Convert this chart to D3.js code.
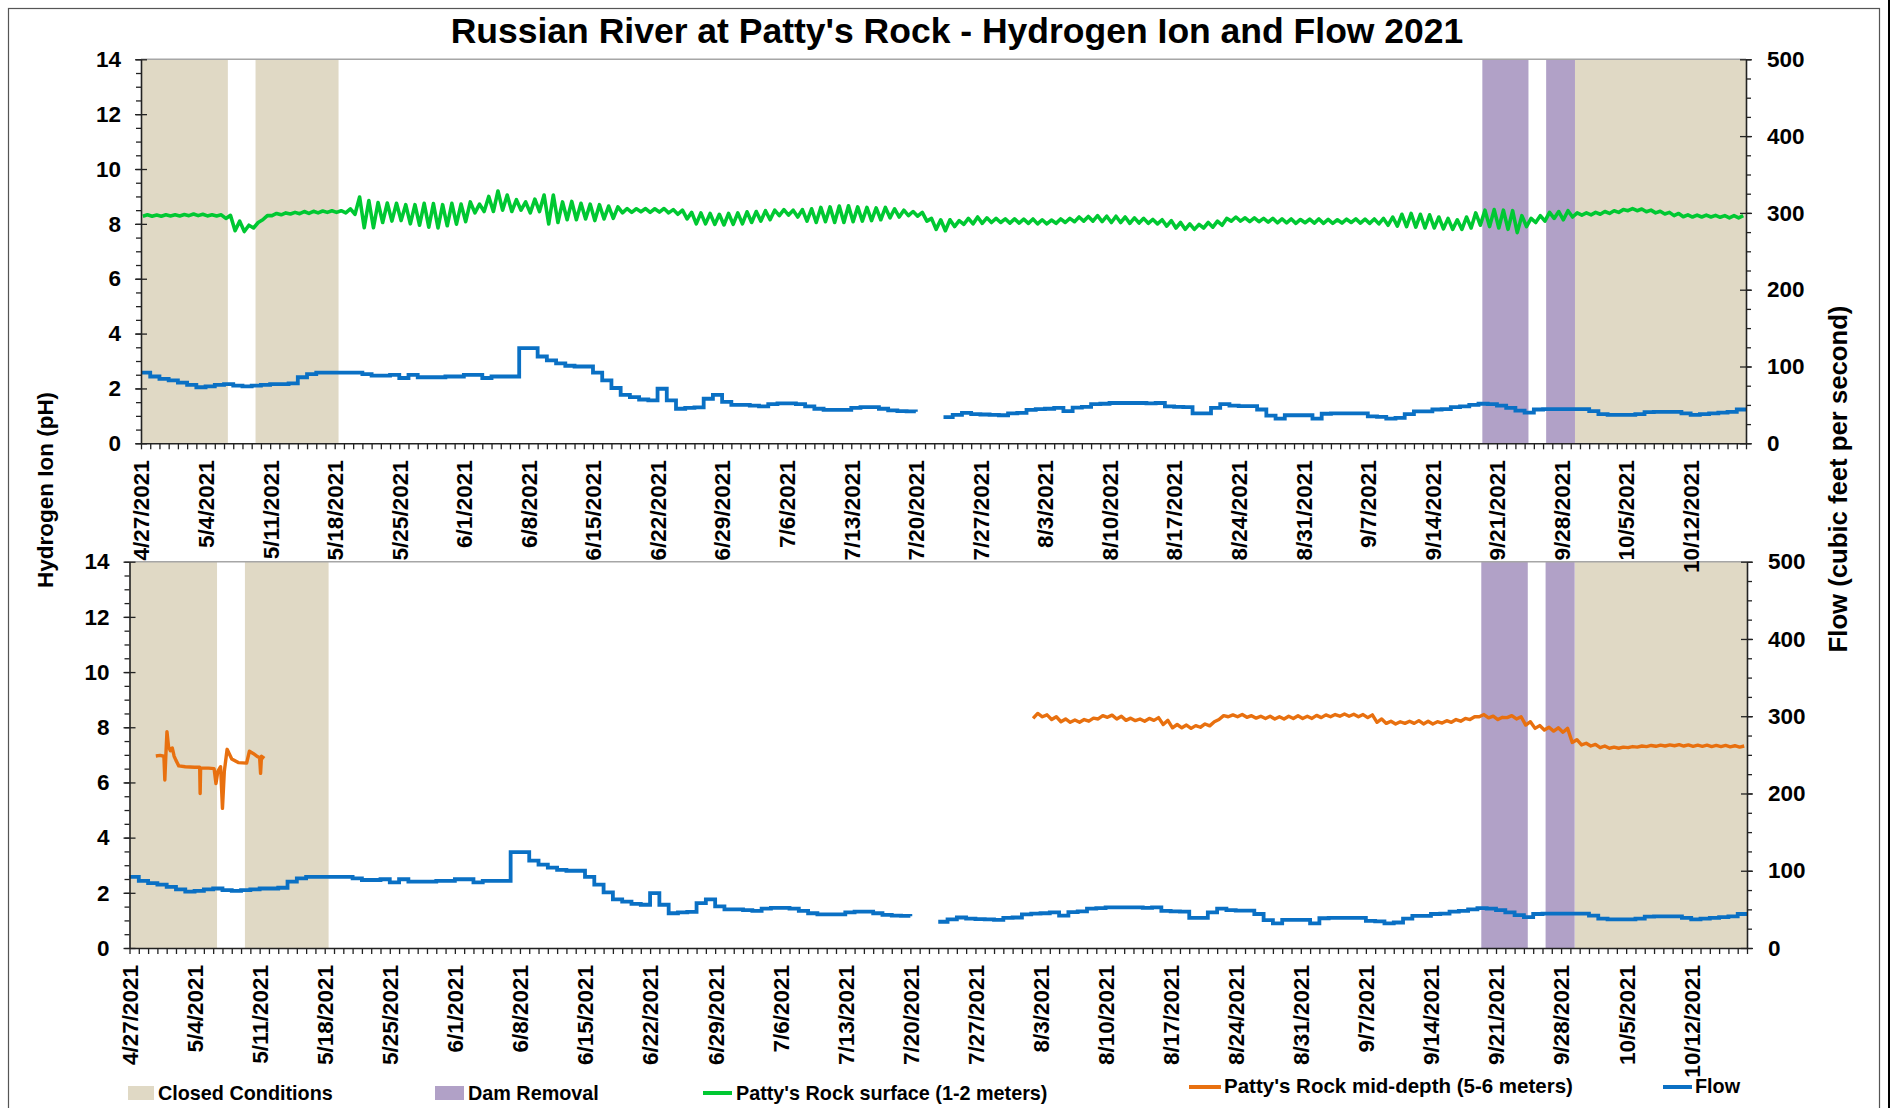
<!DOCTYPE html>
<html><head><meta charset="utf-8">
<script src="https://cdn.jsdelivr.net/npm/d3@7"></script>
<style>
html,body{margin:0;padding:0;background:#fff;}
svg{display:block;}
text{font-family:"Liberation Sans",Arial,Helvetica,sans-serif;font-weight:bold;fill:#000;}
</style>
</head><body>
<svg id="c" width="1892" height="1108"></svg>
<script>
// ---------------- DATA ----------------
const startDate = "2021-04-27T00:00";
const endDate = "2021-10-18T00:00";
const dateTickLabels = ["4/27/2021","5/4/2021","5/11/2021","5/18/2021","5/25/2021","6/1/2021","6/8/2021",
  "6/15/2021","6/22/2021","6/29/2021","7/6/2021","7/13/2021","7/20/2021","7/27/2021","8/3/2021","8/10/2021",
  "8/17/2021","8/24/2021","8/31/2021","9/7/2021","9/14/2021","9/21/2021","9/28/2021","10/5/2021","10/12/2021"];
const phTicks = [0,2,4,6,8,10,12,14];
const flowTicks = [0,100,200,300,400,500];
const closedPeriods = [["2021-04-27T00:00","2021-05-06T10:00"],["2021-05-09T10:00","2021-05-18T10:00"],["2021-09-29T11:00","2021-10-18T00:00"]];
const damPeriods = [["2021-09-19T10:00","2021-09-24T10:00"],["2021-09-26T08:00","2021-09-29T11:00"]];

// Patty's Rock surface pH: daily high / low, one value per day from 4/27
const surfaceHigh = [8.33,8.32,8.33,8.33,8.34,8.36,8.35,8.33,8.33,8.31,
 8.10,7.95,8.05,8.30,8.38,8.40,8.42,8.45,8.46,8.47,
 8.48,8.48,8.55,8.98,8.85,8.78,8.76,8.75,8.70,8.70,
 8.75,8.74,8.70,8.75,8.72,8.80,8.72,9.00,9.20,9.05,
 8.88,8.80,8.90,9.05,9.05,8.80,8.82,8.75,8.72,8.70,
 8.65,8.62,8.56,8.55,8.56,8.55,8.56,8.52,8.50,8.42,
 8.40,8.38,8.35,8.38,8.40,8.44,8.45,8.48,8.50,8.52,
 8.50,8.52,8.55,8.60,8.62,8.65,8.66,8.62,8.60,8.58,
 8.60,8.55,8.50,8.45,8.42,8.20,8.15,8.15,8.12,8.20,
 8.25,8.22,8.20,8.18,8.18,8.17,8.18,8.15,8.14,8.18,
 8.20,8.25,8.27,8.30,8.28,8.28,8.25,8.22,8.20,8.16,
 8.15,8.12,8.05,8.00,7.98,8.05,8.10,8.20,8.25,8.22,
 8.22,8.20,8.20,8.18,8.18,8.16,8.17,8.18,8.16,8.15,
 8.17,8.18,8.17,8.18,8.20,8.25,8.35,8.38,8.35,8.33,
 8.25,8.20,8.15,8.25,8.40,8.50,8.52,8.50,8.48,8.30,
 8.20,8.30,8.42,8.45,8.48,8.40,8.40,8.42,8.45,8.48,
 8.52,8.56,8.54,8.50,8.46,8.42,8.38,8.33,8.32,8.32,
 8.31,8.30,8.30,8.30];
const surfaceLow = [8.28,8.28,8.28,8.29,8.29,8.30,8.30,8.29,8.29,8.20,
 7.75,7.72,7.85,8.15,8.30,8.33,8.36,8.37,8.38,8.40,
 8.42,8.42,8.40,8.35,7.86,7.86,8.05,8.10,8.12,8.00,
 7.95,7.88,7.85,7.93,7.99,8.08,8.40,8.45,8.45,8.50,
 8.45,8.50,8.40,8.45,8.00,8.05,8.15,8.15,8.18,8.12,
 8.18,8.20,8.40,8.42,8.44,8.42,8.43,8.40,8.35,8.18,
 8.00,8.00,7.98,7.96,7.98,8.00,8.05,8.10,8.15,8.30,
 8.32,8.25,8.10,8.05,8.08,8.05,8.05,8.08,8.10,8.12,
 8.15,8.22,8.25,8.30,8.28,8.10,7.80,7.75,7.90,7.98,
 8.00,8.02,8.05,8.05,8.03,8.03,8.02,8.00,8.00,8.02,
 8.05,8.08,8.10,8.10,8.08,8.05,8.05,8.02,8.03,8.02,
 8.00,7.92,7.85,7.80,7.80,7.85,7.88,7.95,8.10,8.10,
 8.08,8.08,8.06,8.04,8.04,8.02,8.04,8.03,8.02,8.02,
 8.03,8.05,8.03,8.02,8.00,7.95,7.92,7.90,7.88,7.85,
 7.85,7.82,7.80,7.80,7.85,7.95,7.90,7.85,7.80,7.68,
 7.90,8.05,8.10,8.20,8.15,8.25,8.32,8.33,8.35,8.38,
 8.42,8.48,8.48,8.44,8.40,8.36,8.30,8.26,8.25,8.25,
 8.25,8.24,8.22,8.22];

// Flow (cfs): one value per day from 4/27 (null = no data)
const flowDaily = [92,87,84,82,79,76,73,74,76,77,
 75,74,75,76,77,77,78,86,90,92,
 92,92,92,92,90,88,88,89,85,89,
 86,86,86,87,87,89,89,85,87,87,
 87,124,124,113,108,104,101,100,100,92,
 82,72,63,60,57,56,71,56,45,46,
 46.8,58,63,54,50,50,49,48,51,52,
 52,51,48,45,43.5,43.5,43.5,46,47,47,
 45,43,42,41.5,41,null,null,34,37,39.5,
 38,37.5,37,36.5,39,39.5,43.5,44.5,45,46,
 42,46.5,47.5,51,51.5,52.5,52.5,52.5,52.5,52,
 52.5,48,47.5,47,39,39,46,51,49,48.5,
 48.5,44,36,32,36.5,36.5,36.5,32,38.5,39,
 39,39,39,35,34.5,32,33,38,41.5,41.5,
 44,44.5,47,48,50,51.5,51,49,46,42.5,
 40,44,44.5,44.5,44.5,44.5,44.5,42,38,37,
 37,37,38,40.5,41,41,41,39,37,38,
 39,40,41,44];

// Patty's Rock mid-depth pH, early record (day offset from 4/27, pH)
const midEarlyDay = [2.83,3.3,3.7,3.8,3.9,4.03,4.2,4.4,4.6,4.8,5.0,5.3,6.0,7.0,7.55,7.6,7.65,8.5,9.1,9.3,9.5,9.8,10.0,10.2,10.5,11.0,11.7,12.6,12.9,13.3,13.7,14.0,14.1,14.2,14.5];
const midEarlyPH  = [6.96,6.98,6.95,6.09,6.9,7.84,7.3,7.15,7.25,6.95,6.80,6.6,6.57,6.55,6.55,5.6,6.52,6.52,6.5,5.96,6.4,6.57,5.06,6.4,7.2,6.85,6.72,6.7,7.13,7.05,6.95,6.9,6.33,6.95,6.87];
// Mid-depth daily high / low from 8/2 onward
const midStart = "2021-08-02T00:00";
const midHigh = [8.50,8.45,8.38,8.30,8.26,8.28,8.33,8.42,8.44,8.40,
 8.33,8.30,8.32,8.35,8.25,8.10,8.08,8.06,8.12,8.20,
 8.42,8.45,8.46,8.42,8.40,8.40,8.38,8.40,8.42,8.40,
 8.43,8.45,8.46,8.48,8.47,8.46,8.45,8.30,8.22,8.20,
 8.22,8.24,8.22,8.20,8.24,8.28,8.32,8.38,8.46,8.40,
 8.36,8.42,8.38,8.20,8.06,8.00,7.98,7.96,7.55,7.42,
 7.38,7.32,7.28,7.28,7.30,7.32,7.34,7.35,7.36,7.37,
 7.36,7.35,7.35,7.34,7.34,7.33,7.32];
const midLow = [8.32,8.38,8.28,8.20,8.18,8.18,8.22,8.30,8.36,8.30,
 8.25,8.24,8.22,8.25,8.10,7.98,7.98,7.96,8.00,8.05,
 8.28,8.38,8.38,8.36,8.33,8.32,8.30,8.30,8.32,8.32,
 8.32,8.35,8.38,8.40,8.40,8.38,8.35,8.18,8.14,8.12,
 8.14,8.14,8.12,8.12,8.15,8.18,8.22,8.28,8.38,8.34,
 8.28,8.35,8.30,8.08,7.96,7.90,7.86,7.82,7.45,7.36,
 7.32,7.26,7.24,7.24,7.26,7.28,7.30,7.31,7.32,7.33,
 7.32,7.31,7.31,7.30,7.30,7.29,7.28];

// ---------------- STYLE / LAYOUT ----------------
const COL = {closed:"#E0D9C5", dam:"#B1A1C7", surface:"#00C832", mid:"#E8700F", flow:"#0A70C4"};
const parseT = d3.timeParse("%Y-%m-%dT%H:%M");
const parseLbl = d3.timeParse("%m/%d/%Y");
const fmtLbl = d3.timeFormat("%-m/%-d/%Y");
const t0 = parseT(startDate), t1 = parseT(endDate), tMid = parseT(midStart);
const DAY = 864e5;
const at = (base, d) => new Date(base.getTime() + d * DAY);
const FONT = '"Liberation Sans",Arial,sans-serif';

const svg = d3.select("#c");
svg.append("rect").attr("width",1892).attr("height",1108).attr("fill","#fff");
// outer frame
svg.append("rect").attr("x",8.5).attr("y",8.5).attr("width",1871).attr("height",1120)
  .attr("fill","none").attr("stroke","#555").attr("stroke-width",1.2);
svg.append("line").attr("x1",1889).attr("x2",1889).attr("y1",0).attr("y2",1108).attr("stroke","#000").attr("stroke-width",2);

const plotLayer = svg.append("g");
const axisLayer = svg.append("g");

// series point arrays
const surfacePts = [];
surfaceHigh.forEach((h,i)=>{ surfacePts.push([at(t0,i+0.2), surfaceLow[i]]); surfacePts.push([at(t0,i+0.7), h]); });
const flowPts = flowDaily.map((v,i)=>[at(t0,i), v]);
flowPts.push([t1, flowDaily[flowDaily.length-1]]);
const midPts1 = midEarlyDay.map((d,i)=>[at(t0,d), midEarlyPH[i]]);
const midPts2 = [];
midHigh.forEach((h,i)=>{ midPts2.push([at(tMid,i+0.2), midLow[i]]); midPts2.push([at(tMid,i+0.7), h]); });

function drawPanel(p){
  const x = d3.scaleTime().domain([t0,t1]).range(p.xr);
  const y = d3.scaleLinear().domain([0,14]).range(p.yr);
  const yf = d3.scaleLinear().domain([0,500]).range(p.yr);
  const g = plotLayer.append("g");
  const ga = axisLayer.append("g");
  const [yb, yt] = p.yr;

  const shade = (periods, col) => periods.forEach(pr => {
    const a = x(parseT(pr[0])), b = x(parseT(pr[1]));
    g.append("rect").attr("x",a).attr("y",yt).attr("width",b-a).attr("height",yb-yt).attr("fill",col);
  });
  shade(closedPeriods, COL.closed);
  shade(damPeriods, COL.dam);

  g.append("line").attr("x1",p.xr[0]).attr("x2",p.xr[1]).attr("y1",yt).attr("y2",yt)
    .attr("stroke","#A6A6A6").attr("stroke-width",1.5);

  // flow
  const flowLine = d3.line().defined(d=>d[1]!=null).x(d=>x(d[0])).y(d=>yf(d[1])).curve(d3.curveStepAfter);
  g.append("path").datum(flowPts).attr("d",flowLine).attr("fill","none")
    .attr("stroke",COL.flow).attr("stroke-width",3.8).attr("stroke-linejoin","miter");

  const phLine = d3.line().x(d=>x(d[0])).y(d=>y(d[1]));
  if (p.surface){
    g.append("path").datum(surfacePts).attr("d",phLine).attr("fill","none")
      .attr("stroke",COL.surface).attr("stroke-width",3.6).attr("stroke-linejoin","round");
  }
  if (p.mid){
    [midPts1, midPts2].forEach(pts => g.append("path").datum(pts).attr("d",phLine).attr("fill","none")
      .attr("stroke",COL.mid).attr("stroke-width",3.4).attr("stroke-linejoin","round"));
  }

  // left axis
  const minorL = ga.append("g").attr("transform",`translate(${p.xr[0]},0)`)
    .call(d3.axisLeft(y).tickValues(d3.range(0,14.01,0.5)).tickSize(5).tickFormat(""));
  minorL.select(".domain").remove();
  const axL = ga.append("g").attr("transform",`translate(${p.xr[0]},0)`)
    .call(d3.axisLeft(y).tickValues(phTicks).tickSizeInner(6).tickSizeOuter(0).tickPadding(14));
  axL.selectAll(".tick line").attr("x1",6);
  // right axis
  const minorR = ga.append("g").attr("transform",`translate(${p.xr[1]},0)`)
    .call(d3.axisRight(yf).tickValues(d3.range(0,501,25)).tickSize(5).tickFormat(""));
  minorR.select(".domain").remove();
  const axR = ga.append("g").attr("transform",`translate(${p.xr[1]},0)`)
    .call(d3.axisRight(yf).tickValues(flowTicks).tickSizeInner(6).tickSizeOuter(0).tickPadding(15));
  axR.selectAll(".tick line").attr("x1",-6);
  // bottom axis: daily ticks
  const axB = ga.append("g").attr("transform",`translate(0,${yb})`)
    .call(d3.axisBottom(x).tickValues(d3.timeDay.range(t0, at(t1,0.5))).tickSizeInner(6).tickSizeOuter(0).tickFormat(""));
  // labels
  const axLbl = ga.append("g").attr("transform",`translate(0,${yb})`)
    .call(d3.axisBottom(x).tickValues(dateTickLabels.map(parseLbl)).tickSize(0).tickFormat(fmtLbl));
  axLbl.select(".domain").remove();
  axLbl.selectAll("text").attr("transform","rotate(-90)").attr("text-anchor","end")
    .attr("x",-17).attr("y",0).attr("dy","0.35em");

  [axL, axR, axB, axLbl, minorL, minorR].forEach(a => {
    a.selectAll("text").style("font-size","22.5px").style("font-family",FONT).style("font-weight","bold").attr("fill","#000");
    a.selectAll("line").attr("stroke","#222").attr("stroke-width",1.3);
    a.selectAll(".domain").attr("stroke","#222").attr("stroke-width",1.6);
  });
}

drawPanel({xr:[141,1746], yr:[443.3,59.3], surface:true});
drawPanel({xr:[129.5,1747], yr:[948,561.7], mid:true});

// titles
svg.append("text").attr("x",957).attr("y",43).attr("text-anchor","middle").style("font-size","35.5px")
  .text("Russian River at Patty's Rock - Hydrogen Ion and Flow 2021");
svg.append("text").attr("transform","translate(53,490) rotate(-90)").attr("text-anchor","middle").style("font-size","22.5px")
  .text("Hydrogen Ion (pH)");
svg.append("text").attr("transform","translate(1847,479) rotate(-90)").attr("text-anchor","middle").style("font-size","25.7px")
  .text("Flow (cubic feet per second)");

// legend
const lg = svg.append("g").style("font-size","19.8px");
lg.append("rect").attr("x",128).attr("y",1086).attr("width",26).attr("height",14).attr("fill",COL.closed);
lg.append("text").attr("x",158).attr("y",1100).text("Closed Conditions");
lg.append("rect").attr("x",435).attr("y",1086).attr("width",29).attr("height",14).attr("fill",COL.dam);
lg.append("text").attr("x",468).attr("y",1100).text("Dam Removal");
lg.append("line").attr("x1",703).attr("x2",732).attr("y1",1093).attr("y2",1093).attr("stroke",COL.surface).attr("stroke-width",4);
lg.append("text").attr("x",736).attr("y",1100).text("Patty's Rock surface (1-2 meters)");
lg.append("line").attr("x1",1189).attr("x2",1221).attr("y1",1087).attr("y2",1087).attr("stroke",COL.mid).attr("stroke-width",4);
lg.append("text").attr("x",1224).attr("y",1093).style("font-size","20.5px").text("Patty's Rock mid-depth (5-6 meters)");
lg.append("line").attr("x1",1663).attr("x2",1692).attr("y1",1087).attr("y2",1087).attr("stroke",COL.flow).attr("stroke-width",4);
lg.append("text").attr("x",1695).attr("y",1093).text("Flow");
</script>
</body></html>
